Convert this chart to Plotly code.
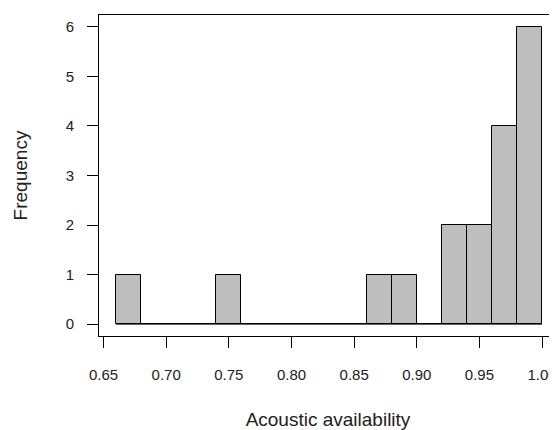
import numpy as np
import plotly.graph_objects as go

# Histogram data (bin edges and counts)
bin_edges = [0.66, 0.68, 0.70, 0.72, 0.74, 0.76, 0.78, 0.80, 0.82, 0.84,
             0.86, 0.88, 0.90, 0.92, 0.94, 0.96, 0.98, 1.00]
counts = [1, 0, 0, 0, 1, 0, 0, 0, 0, 0, 1, 1, 0, 2, 2, 4, 6]
x_ticks = [0.65, 0.70, 0.75, 0.80, 0.85, 0.90, 0.95, 1.00]
y_ticks = [0, 1, 2, 3, 4, 5, 6]
x_title = "Acoustic availability"
y_title = "Frequency"

edges = np.array(bin_edges)
centers = (edges[:-1] + edges[1:]) / 2
widths = np.diff(edges)

FONT = "Liberation Sans, Arial, sans-serif"

fig = go.Figure()
# zero-height bins appear as a baseline in R's hist
fig.add_trace(go.Scatter(
    x=[edges[0], edges[-1]], y=[0, 0], mode="lines",
    line=dict(color="black", width=1), hoverinfo="skip", showlegend=False,
))
fig.add_trace(go.Bar(
    x=centers, y=counts, width=widths,
    marker=dict(color="#BEBEBE", line=dict(color="black", width=1)),
    showlegend=False,
))

# the page body adds an 8px offset, so the figure is sized to end at the window edge
fig.update_layout(
    width=549, height=422,
    margin=dict(l=91, r=0, t=7, b=94),
    paper_bgcolor="white", plot_bgcolor="white",
    font=dict(family=FONT, color="black", size=15),
    bargap=0,
    xaxis=dict(
        range=[0.6464, 1.0119], tickvals=x_ticks, tickformat=".2f",
        ticks="outside", ticklen=11, tickwidth=1, tickcolor="black",
        showline=True, linecolor="black", linewidth=1, mirror=True,
        showgrid=False, zeroline=False, automargin=False,
        tickfont=dict(size=15, family=FONT, color="#222"),
        ticklabelstandoff=14,
        title=dict(text=x_title, font=dict(size=19, family=FONT, color="#222"), standoff=30),
    ),
    yaxis=dict(
        range=[-0.24, 6.24], tickvals=y_ticks,
        ticks="outside", ticklen=11, tickwidth=1, tickcolor="black",
        showline=True, linecolor="black", linewidth=1, mirror=False,
        showgrid=False, zeroline=False, automargin=False,
        tickfont=dict(size=15, family=FONT, color="#222"),
        ticklabelstandoff=10,
        title=dict(text=y_title, font=dict(size=19, family=FONT, color="#222"), standoff=33),
    ),
)

fig.write_html("out.html")
